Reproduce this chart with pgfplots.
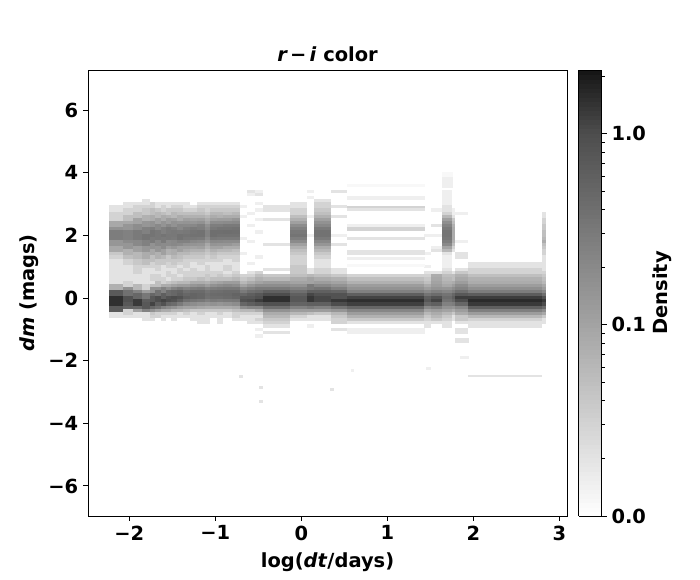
\documentclass[border=0pt]{standalone}
\usepackage{fontspec}
\setmainfont{DejaVu Sans}
\usepackage{pgfplots}
\pgfplotsset{compat=1.18}
\newcommand\fs{\fontsize{14}{16}\selectfont\bfseries}
\newcount\nrows
\gdef\coords{}
% one column of the density map: left edge in log(dt), then the density (in 0.01 units)
% of the 47 rows dm = 3.4, 3.3, ..., -1.2
\newcommand\C[2]{%
  \global\nrows=0
  \foreach \v [count=\i] in {#2} {%
    \global\nrows=\i
    \ifnum\i<48
      \pgfmathsetmacro\yy{3.45-0.1*(\i-1)}%
      \pgfmathsetmacro\mm{log10(\v/100)}%
      \xdef\coords{\coords (#1,\yy) [\mm] }%
    \fi
  }%
  \loop\ifnum\nrows<47
    \global\advance\nrows by 1
    \pgfmathsetmacro\yy{3.45-0.1*(\the\nrows-1)}%
    \xdef\coords{\coords (#1,\yy) [-2] }%
  \repeat
  \xdef\coords{\coords (#1,-1.25) [-2] }%
}
% a thin stripe: x0, x1, dm centre, dm height, density (0.01 units)
\newcommand\stripe[5]{%
  \pgfmathsetmacro\mm{log10(#5/100)}%
  \pgfmathsetmacro\ya{#3+#4/2}%
  \pgfmathsetmacro\yb{#3-#4/2}%
  \edef\tmp{\noexpand\addplot[surf,shader=flat corner,mesh/ordering=y varies,mesh/rows=2,point meta=explicit] coordinates {(#1,\ya) [\mm] (#1,\yb) [\mm] (#2,\ya) [\mm] (#2,\yb) [\mm]};}\tmp
}
\begin{document}
\begin{tikzpicture}[x=1pt,y=1pt]
\path (0,0) rectangle (504,417.6);
\C{-2.233}{1,1,1,1,1, 2,2,3,3,3, 9,9,16,28,28, 28,14,14,9,9, 4,3,2,2,2, 2,2,2,2,2, 7,7,70,70,150, 150,150,70,70,2, 2,1,1,1,1, 1,1}
\C{-2.07}{1,1,1,1,2, 2,3,3,5,5, 9,14,14,25,25, 25,19,14,14,7, 7,5,3,3,2, 2,2,2,2,3, 3,16,38,38,90, 90,75,55,3,3, 2,1,1,1,1, 1,1}
\C{-1.953}{1,1,1,1,2, 3,3,5,5,10, 10,18,18,30,30, 30,20,20,11,11, 6,6,4,4,3, 3,3,2,2,2, 6,6,24,50,50, 130,130,50,11,2, 2,1,1,1,1, 1,1}
\C{-1.849}{1,1,1,2,2, 3,4,4,7,7, 14,14,25,25,35, 35,25,25,14,14, 8,8,5,5,3, 2,2,2,2,2, 3,3,12,32,32, 65,75,75,24,2, 2,2,1,1,1, 1,1}
\C{-1.756}{1,1,1,1,3, 3,5,5,8,8, 16,16,28,35,35, 30,30,16,16,9, 9,5,5,3,3, 2,2,3,3,2, 5,16,16,50,75, 75,115,50,16,4, 3,2,1,1,1, 1,1}
\C{-1.698}{1,1,1,1,2, 2,4,6,6,11, 11,20,20,32,32, 32,21,21,14,14, 7,7,4,4,3, 3,2,3,3,5, 5,16,38,38,100, 100,62,38,11,3, 3,1,1,1,1, 1,1}
\C{-1.628}{1,1,1,1,2, 3,3,5,8,8, 15,15,26,26,35, 30,30,19,19,11, 11,6,4,4,2, 2,2,2,3,3, 8,24,24,62,62, 115,88,24,8,3, 2,2,1,1,1, 1,1}
\C{-1.57}{1,1,1,1,2, 2,4,4,7,12, 12,21,30,30,32, 32,19,19,12,7, 7,4,4,3,3, 2,3,3,2,4, 8,16,44,44,88, 100,50,19,8,3, 2,1,1,1,1, 1,1}
\C{-1.512}{1,1,1,1,2, 3,4,6,6,11, 16,16,27,32,32, 30,21,21,14,8, 8,6,4,4,3, 2,2,3,3,5, 10,24,50,50,100, 88,44,16,6,3, 2,2,1,1,1, 1,1}
\C{-1.442}{1,1,1,1,2, 3,4,5,8,8, 14,21,21,30,37, 37,25,19,11,11, 6,5,4,3,2, 3,3,2,3,6, 12,30,56,62,88, 62,30,12,6,2, 2,1,1,1,1, 1,1}
\C{-1.372}{1,1,1,1,2, 2,3,5,7,11, 15,20,27,32,35, 32,25,16,11,8, 6,4,3,3,3, 2,3,3,4,6, 12,24,40,50,60, 40,20,10,5,3, 2,1,1,1,1, 1,1}
\C{-1.291}{1,1,1,1,1, 2,3,5,7,10, 14,21,30,35,37, 32,21,15,10,7, 5,4,3,2,2, 3,3,3,4,8, 14,28,45,55,55, 35,18,10,4,2, 2,2,1,1,1, 1,1}
\C{-1.209}{1,1,1,1,2, 3,4,5,7,11, 16,25,27,37,37, 30,19,14,11,7, 5,4,3,3,2, 2,3,3,5,8, 16,30,45,50,50, 32,16,9,4,3, 2,2,2,1,1, 1,1}
\C{-1.116}{1,1,1,1,2, 3,3,4,6,8, 10,16,19,24,24, 19,14,9,7,5, 4,3,3,2,3, 3,3,4,4,7, 12,24,35,40,38, 26,14,8,4,2, 2,2,2,1,1, 1,1}
\C{-1.058}{1,1,1,1,2, 3,4,6,8,11, 18,27,32,40,40, 32,21,15,10,7, 5,4,3,2,2, 2,3,3,5,9, 16,28,40,45,42, 30,16,8,4,2, 2,1,1,1,1, 1,1}
\C{-0.977}{1,1,1,1,2, 3,4,6,7,12, 18,27,35,40,37, 30,20,14,10,6, 4,3,3,2,2, 2,3,4,5,10, 18,30,42,46,42, 28,14,8,4,3, 2,2,2,1,1, 1,1}
\C{-0.907}{1,1,1,1,2, 3,4,5,8,12, 19,30,35,42,37, 30,19,14,8,6, 4,3,2,2,3, 3,2,3,5,12, 20,32,45,48,45, 30,16,8,4,2, 2,1,1,1,1, 1,1}
\C{-0.802}{1,1,1,1,2, 3,4,6,8,14, 20,30,37,40,37, 30,19,12,8,5, 4,3,3,2,2, 2,3,4,6,12, 18,32,45,55,50, 32,18,9,5,3, 3,2,1,1,1, 1,1}
\C{-0.709}{1,1,1,1,1, 1.5,1,1,1.5,1, 1,1,1,1,1, 1.5,1,1,1,1, 1.5,1,1,1,1, 1,1,3,4,6, 10,20,30,50,75, 90,50,18,6,3, 2,2,1,1,1, 1,1}
\C{-0.628}{2,1.5,1,1,1, 1,1,1.5,1,1, 1,1.5,1,1,1, 1,1.5,1,1,1, 1,1,1,1.5,1, 1,2,3,5,8, 14,25,40,62,75, 100,62,22,6,3, 2,2,2,1,1, 1,1}
\C{-0.535}{1.5,2,1,1,1.5, 1,1.5,1,1,1.5, 1,1,1,1.5,1, 1,1,1,1,1, 1,1.5,1,1,1, 1,3,5,7,10, 18,30,45,75,90, 125,75,22,8,3, 2,3,2,1,1.5, 1,1.5}
\C{-0.442}{1,1,1,1,1, 2,2,1,1,2, 1,1,1,1,1, 1,1,2,1,1, 1,1,1,1,1, 2,1,4,6,12, 18,30,60,100,150, 150,90,40,16,8, 6,4,3,2,1, 2,1}
\C{-0.128}{1,1,1,1,2, 2,3,3,5,7, 11,18,25,32,35, 27,19,11,7,5, 4,3,3,3,4, 4,4,5,8,10, 16,25,40,60,75, 75,55,25,12,6, 3,2,1,1,1, 1,1}
\C{0.07}{1.5,1,1.5,1,1, 1,1,1,1.5,1, 1,1,1,1,1.5, 1,1,1,1,1, 1,1,1,1,1, 2,2,6,10,10, 30,30,60,110,135, 135,60,30,12,5, 2,2,1,1.5,1, 1,1}
\C{0.151}{1,1,1,2,3, 3,4,5,7,11, 16,21,30,37,37, 30,21,14,8,6, 4,3,2,2,2, 3,3,5,8,12, 20,35,60,88,110, 110,60,25,12,4, 2,2,1,1,1, 1,1}
\C{0.349}{2,1,1,1,1, 2,1,1,2,1, 1,1,1,1,1.5, 1,1,2,1,1, 1,1,1,1,1, 2,2,4,7,10, 16,26,55,88,88, 135,100,35,14,6, 4,3,3,1,2, 1,1}
\C{0.535}{1,1,1,1,1, 1,1,1,1,1, 1,1,1,1,1, 1,1,1,1,1, 1,1,1,1,1, 1,1,3,5,7, 12,16,26,62,115, 150,120,50,22,12, 7,4,2,1,2, 2,1}
\C{1.43}{1,1,1,1,1, 1,1,1,1,1, 1,1,1,1,1.5, 1,1,1,1,1, 1.5,1,1,1,1.5, 1,2,3,4,5, 8,12,20,35,62, 75,50,20,10,6, 4,3,2,2,1, 1,1}
\C{1.512}{1,1,1,1,1, 1,1.5,1,1,1, 1,2,1,1,1.5, 1,1,1,1.5,2, 1,1,1,1,1, 1,2,8,9,10, 12,15,26,44,88, 115,60,25,12,8, 6,4,2,1,1, 1,1}
\C{1.64}{1.5,1.5,1.5,1.5,1.5, 2,2,3,6,11, 17,24,30,35,35, 33,28,20,10,6, 2,1.5,1.5,1.5,1.5, 2,3,5,6,7, 9,14,22,35,44, 37,25,16,10,6, 4,3,2,2,1, 1,1}
\C{1.756}{1,1,1,1,1, 1,1.5,1.5,2,4, 5,7,8,8,8, 8,7,5,3,2, 1,1,1,1,1, 1,2,5,5,8, 12,18,28,50,62, 50,28,14,8,4, 2,2,1,1,1, 1,1}
\C{1.791}{1,1,1,1,1, 1,1,1.5,1,1, 1,1,1,1,1, 1,1.5,1,1,1, 2,2,1,1,1, 2,4,7,9,12, 18,24,40,75,125, 100,50,20,12,8, 4,4,2,1,2, 2,1}
\C{1.942}{1,1,1,1,1, 1,1,1,1,1, 1,1,1,1,1, 1,1,1,1,1, 1,1,1,2,2, 3,3,5,7,8, 12,17,28,65,125, 160,130,60,26,12, 6,3,2,2,1, 1,1}
\C{2.802}{1,1,1,1,1, 1,1,2,2,3, 3,4,4,5,5, 6,8,5,4,3, 3,2,2,2,2, 2,3,4,5,6, 9,12,20,40,88, 130,100,44,18,9, 4,2,2,1,1, 1,1}
\C{2.837}{1,1,1,1,1, 1,1,1,1,1, 1,1,1,1,1, 1,1,1,1,1, 1,1,1,1,1, 1,1,1,1,1, 1,1,1,1,1, 1,1,1,1,1, 1,1,1,1,1, 1,1}
\begin{axis}[
  at={(63.36pt,46.08pt)}, anchor=south west,
  scale only axis, width=344.9pt, height=321.1pt,
  xmin=-2.48, xmax=3.09, ymin=-6.96, ymax=7.28,
  xtick={-2,-1,0,1,2,3}, xticklabels={−2,−1,0,1,2,3},
  ytick={-6,-4,-2,0,2,4,6}, yticklabels={−6,−4,−2,0,2,4,6},
  tick align=outside, xtick pos=bottom, ytick pos=left,
  major tick length=3.5pt, axis line style={line width=0.7pt},
  tick style={line width=0.7pt,black},
  tick label style={font=\fs},
  title={\textit{r\,−\,i} color}, title style={font=\fs,yshift=-3.6pt},
  xlabel={log(\textit{dt}/days)}, ylabel={\textit{dm} (mags)},
  label style={font=\fs},
  xlabel style={yshift=-2pt},
  colormap={dens}{gray(0)=(1); gray(43)=(0.64); gray(86)=(0.3); gray(100)=(0.08)},
  point meta min=-2, point meta max=0.3333,
  colorbar sampled,
  colorbar style={
    at={(parent axis.north east)}, anchor=north west, xshift=0pt,
    width=16.5pt, samples=100,
    ytick={-2,-1,0}, yticklabels={0.0,0.1,1.0},
    minor ytick={-1.699,-1.523,-1.398,-1.301,-1.222,-1.155,-1.097,-1.046,-0.699,-0.523,-0.398,-0.301,-0.222,-0.155,-0.097,-0.046,0.301},
    tick align=outside, major tick length=3.5pt, minor tick length=2pt,
    ytick pos=right, yticklabel pos=right,
    tick style={line width=0.7pt,black},
    axis line style={line width=0.7pt},
    tick label style={font=\fs},
    ylabel={Density}, ylabel style={font=\fs,yshift=2pt},
  },
]
\edef\tmp{\noexpand\addplot[surf,shader=flat corner,mesh/ordering=y varies,mesh/rows=48,point meta=explicit] coordinates {\coords};}\tmp
% thin streaks in the sparsely populated bins
\stripe{0.535}{1.43}{3.6}{0.05}{1.2}
\stripe{0.535}{1.43}{3.2}{0.08}{1.5}
\stripe{0.535}{1.43}{2.9}{0.05}{3}
\stripe{0.535}{1.43}{2.83}{0.05}{2}
\stripe{0.535}{1.43}{2.33}{0.06}{1.5}
\stripe{0.535}{1.43}{2.2}{0.1}{3}
\stripe{0.535}{1.43}{1.9}{0.06}{2}
\stripe{0.535}{1.43}{1.47}{0.12}{2}
\stripe{0.535}{1.43}{1.27}{0.06}{1.5}
\stripe{0.535}{1.43}{1.05}{0.05}{1.2}
\stripe{0.535}{1.43}{-1.0}{0.05}{1.5}
\stripe{0.535}{1.43}{-1.1}{0.05}{1.5}
\stripe{1.64}{1.756}{3.95}{0.1}{1.2}
\stripe{1.64}{1.756}{3.7}{0.3}{1.5}
\stripe{1.94}{2.79}{-2.48}{0.05}{2}
\stripe{-0.72}{-0.69}{-2.5}{0.08}{2}
\stripe{-0.49}{-0.45}{-2.85}{0.08}{2}
\stripe{-0.49}{-0.45}{-3.3}{0.08}{2}
\stripe{0.34}{0.37}{-2.9}{0.06}{2}
\stripe{0.58}{0.6}{-2.3}{0.05}{1.5}
\stripe{1.45}{1.5}{-2.25}{0.06}{1.5}
\stripe{1.85}{1.94}{-1.9}{0.05}{1.5}
\stripe{1.79}{1.94}{-1.35}{0.1}{2}
\end{axis}
\end{tikzpicture}
\end{document}
